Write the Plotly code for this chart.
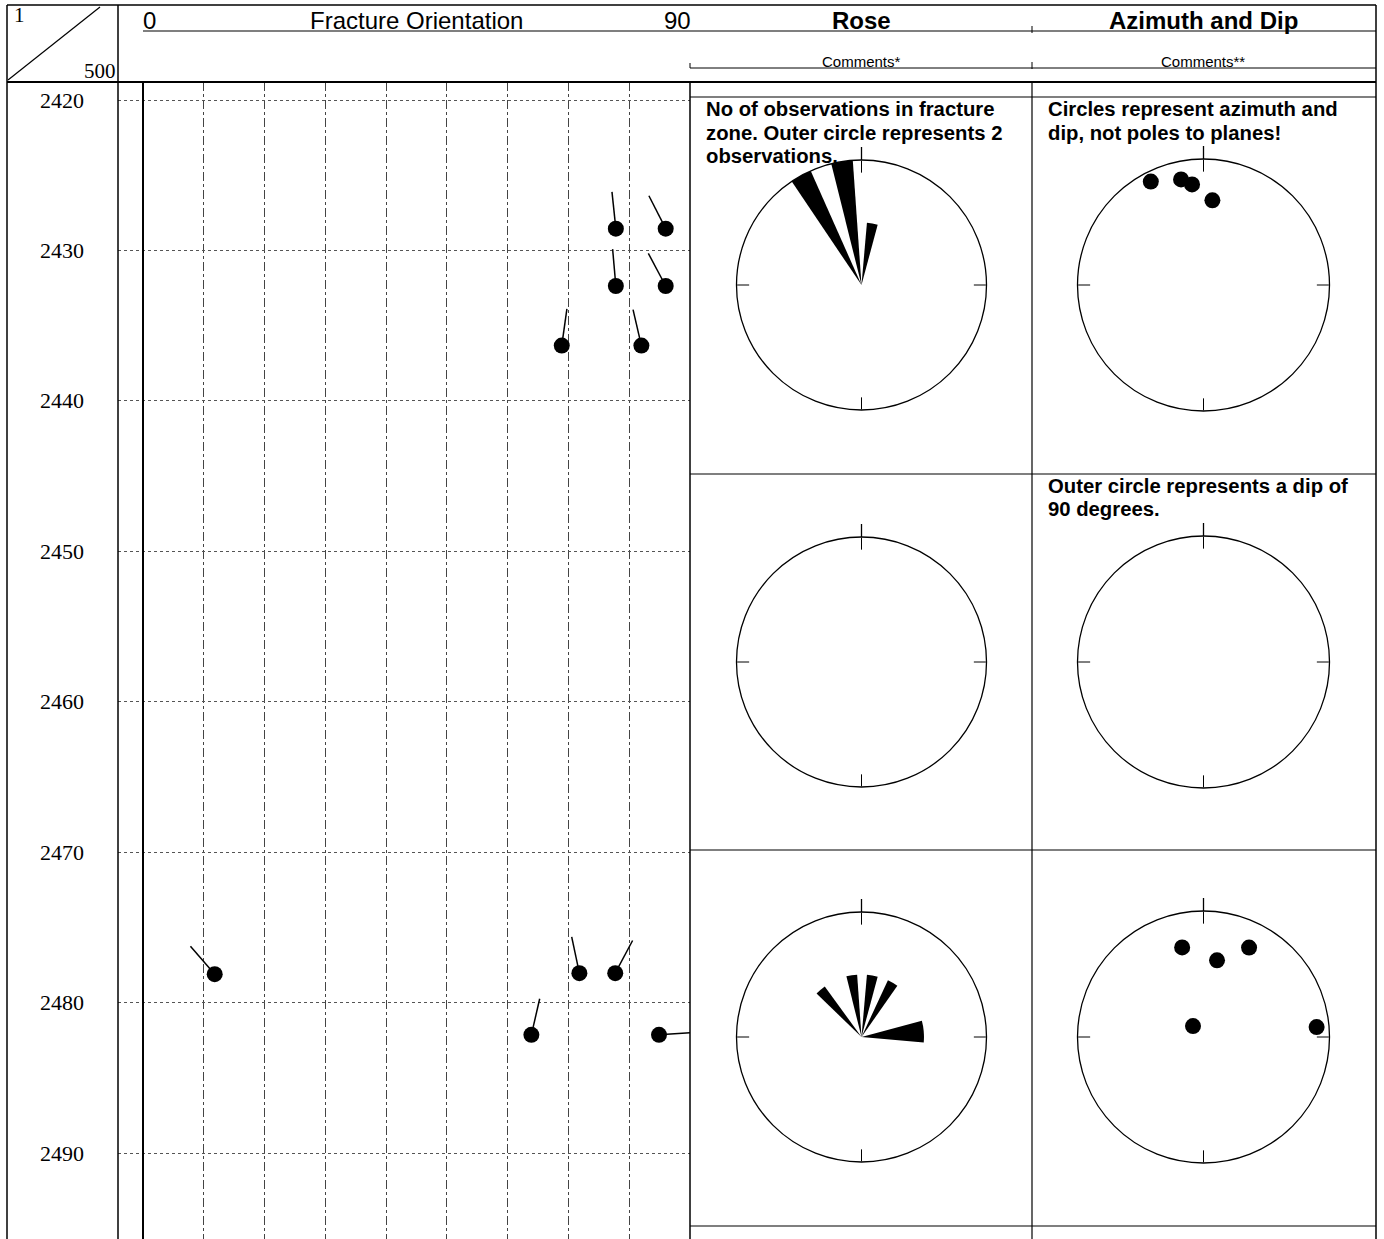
import math
import plotly.graph_objects as go

W, H = 1384, 1239

# ---------------- data ----------------
depth_ticks = [2420, 2430, 2440, 2450, 2460, 2470, 2480, 2490]

# fracture tadpoles: depth (m), dip (deg), dip azimuth (deg)
frac_depth = [2428.55, 2428.55, 2432.36, 2432.36, 2436.32, 2436.32,
              2478.03, 2478.03, 2478.10, 2482.13, 2482.13]
frac_dip = [77.8, 86.0, 77.8, 86.0, 68.9, 82.0,
            71.8, 77.7, 11.8, 63.9, 84.9]
frac_azi = [354, 333, 355, 332, 8, 347,
            348, 28, 319, 13, 86]

# rose diagrams (count per azimuth sector), one per depth window
rose1_theta = [331, 351, 10]
rose1_count = [2, 2, 1]
rose1_width = [10, 10, 10]

rose3_theta = [319, 351, 10, 30, 85]
rose3_count = [1, 1, 1, 1, 1]
rose3_width = [10, 10, 10, 10, 20]

# azimuth / dip plots
ad1_azi = [333, 348, 353.5, 6]
ad1_dip = [82.9, 77.1, 72.3, 60.8]

ad3_azi = [346.6, 10, 27, 316, 85]
ad3_dip = [65.8, 55.6, 71.7, 10.8, 81.1]

# ---------------- layout helpers ----------------
def px(x):
    return x / W


def py(y):
    return 1 - y / H


X_RANGE = [-4.112, 90]
Y_RANGE = [2495.7, 2418.8]
X_DOM = [118, 690]
Y_TOP = 82

x_scale = (X_DOM[1] - X_DOM[0]) / (X_RANGE[1] - X_RANGE[0])   # px per degree
y_scale = (H - Y_TOP) / (Y_RANGE[0] - Y_RANGE[1])              # px per metre
TAIL = 37  # tail length in px

fig = go.Figure()

# tadpole tails
tx, ty = [], []
for d, dip, az in zip(frac_depth, frac_dip, frac_azi):
    a = math.radians(az)
    tx += [dip, dip + TAIL * math.sin(a) / x_scale, None]
    ty += [d, d - TAIL * math.cos(a) / y_scale, None]
fig.add_trace(go.Scatter(x=tx, y=ty, mode="lines",
                         line=dict(color="black", width=1.5),
                         hoverinfo="skip", showlegend=False))
fig.add_trace(go.Scatter(x=frac_dip, y=frac_depth, mode="markers",
                         marker=dict(color="black", size=16),
                         showlegend=False))

# polar panels
RC = 861.5
AC = 1203.5
rows_cy = [285, 662, 1037]
R_ROSE = 125
R_AD = 126


def dom(cx, cy, r):
    return dict(x=[px(cx - r), px(cx + r)], y=[py(cy + r), py(cy - r)])


polar_common = dict(
    bgcolor="white",
    hole=0,
    angularaxis=dict(rotation=90, direction="clockwise", showgrid=False,
                     showticklabels=False, ticks="inside", ticklen=12,
                     tickwidth=1.3, tickcolor="black", tickmode="array",
                     tickvals=[0, 90, 180, 270], showline=True,
                     linecolor="black", linewidth=1.3),
)

layout_polars = {}
for i, cy in enumerate(rows_cy):
    rname = "polar" if i == 0 else "polar%d" % (2 * i + 1)
    aname = "polar%d" % (2 * i + 2)
    layout_polars[rname] = dict(polar_common, domain=dom(RC, cy, R_ROSE),
                                radialaxis=dict(visible=False, range=[0, 2]))
    layout_polars[aname] = dict(polar_common, domain=dom(AC, cy, R_AD),
                                radialaxis=dict(visible=False, range=[0, 90]))

fig.add_trace(go.Barpolar(r=rose1_count, theta=rose1_theta, width=rose1_width,
                          marker=dict(color="black", line=dict(width=0)),
                          subplot="polar", showlegend=False))
fig.add_trace(go.Scatterpolar(r=ad1_dip, theta=ad1_azi, mode="markers",
                              marker=dict(color="black", size=16),
                              subplot="polar2", showlegend=False))
fig.add_trace(go.Scatterpolar(r=[], theta=[], mode="markers",
                              subplot="polar3", showlegend=False))
fig.add_trace(go.Scatterpolar(r=[], theta=[], mode="markers",
                              subplot="polar4", showlegend=False))
fig.add_trace(go.Barpolar(r=rose3_count, theta=rose3_theta, width=rose3_width,
                          marker=dict(color="black", line=dict(width=0)),
                          subplot="polar5", showlegend=False))
fig.add_trace(go.Scatterpolar(r=ad3_dip, theta=ad3_azi, mode="markers",
                              marker=dict(color="black", size=16),
                              subplot="polar6", showlegend=False))

# ---------------- frame lines ----------------
shapes = []


def seg(x0, y0, x1, y1, w=1.2, color="black"):
    shapes.append(dict(type="line", xref="paper", yref="paper",
                       x0=px(x0), y0=py(y0), x1=px(x1), y1=py(y1),
                       line=dict(color=color, width=w)))


seg(7, 5, 1376, 5, 1.5)
seg(7, 5, 7, 1239, 1.5)
seg(1376, 5, 1376, 1239, 1.5)
seg(118, 5, 118, 1239, 1.5)
seg(8, 80, 100, 7, 1.2)
seg(7, 82, 1376, 82, 2)
seg(143, 31, 1376, 31, 1.2)
seg(690, 68, 1376, 68, 1)
seg(690, 63, 690, 68, 1)
seg(1032, 26, 1032, 33, 1)
seg(1032, 62, 1032, 69, 1)
seg(690, 97, 1376, 97, 1.2)
seg(690, 82, 690, 1239, 1.5)
seg(1032, 82, 1032, 1239, 1.2)
for yy in [474, 850, 1226]:
    seg(690, yy, 1376, yy, 1.2)
# outward part of the north tick on every circle
for cy in rows_cy:
    seg(RC, cy - R_ROSE - 13, RC, cy - R_ROSE, 1.3)
    seg(AC, cy - R_AD - 13, AC, cy - R_AD, 1.3)

# ---------------- text ----------------
ann = []
SANS = "Liberation Sans, Arial, sans-serif"
SERIF = "Liberation Serif, Times New Roman, serif"


def txt(x, y, s, size, bold=False, family=SANS, xanchor="center",
        yanchor="middle", align="center"):
    ann.append(dict(xref="paper", yref="paper", x=px(x), y=py(y), text=s,
                    showarrow=False, xanchor=xanchor, yanchor=yanchor,
                    align=align,
                    font=dict(family=family, size=size, color="black",
                              weight="bold" if bold else "normal")))


txt(416, 21, "Fracture Orientation", 24)
txt(149, 21, "0", 24)
txt(677, 21, "90", 24)
txt(862, 21, "Rose", 24, bold=True)
txt(1203, 21, "Azimuth and Dip", 24, bold=True)
txt(861, 62, "Comments*", 15)
txt(1203, 62, "Comments**", 15)
txt(12, 15, "1", 21, family=SERIF, xanchor="left")
txt(118, 71, "500", 21, family=SERIF, xanchor="right")


def para(x, y0, lines, step=23.5):
    for k, s in enumerate(lines):
        txt(x, y0 + k * step, s, 20.3, bold=True, xanchor="left")


para(704, 109, ["No of observations in fracture",
                "zone. Outer circle represents 2",
                "observations."])
para(1046, 109, ["Circles represent azimuth and",
                 "dip, not poles to planes!"])
para(1046, 486, ["Outer circle represents a dip of",
                 "90 degrees."])

for d in depth_ticks:
    ann.append(dict(xref="paper", yref="y", x=px(62), y=d, text=str(d),
                    showarrow=False, xanchor="center", yanchor="middle",
                    font=dict(family=SERIF, size=22, color="black")))

fig.update_layout(
    width=W, height=H,
    margin=dict(l=0, r=0, t=0, b=0),
    paper_bgcolor="white", plot_bgcolor="white",
    showlegend=False,
    xaxis=dict(domain=[px(X_DOM[0]), px(X_DOM[1])], range=X_RANGE,
               tick0=0, dtick=10, showgrid=True, gridcolor="#444",
               griddash="dashdot", gridwidth=1, zeroline=True,
               zerolinecolor="black", zerolinewidth=1.5,
               showticklabels=False, ticks="", showline=False, fixedrange=True),
    yaxis=dict(domain=[0, py(Y_TOP)], range=Y_RANGE, tick0=2420, dtick=10,
               showgrid=True, gridcolor="#555", griddash="dot", gridwidth=1,
               zeroline=False, showticklabels=False, ticks="",
               showline=False, fixedrange=True),
    shapes=shapes,
    annotations=ann,
    **layout_polars,
)

fig.write_html("out.html")
